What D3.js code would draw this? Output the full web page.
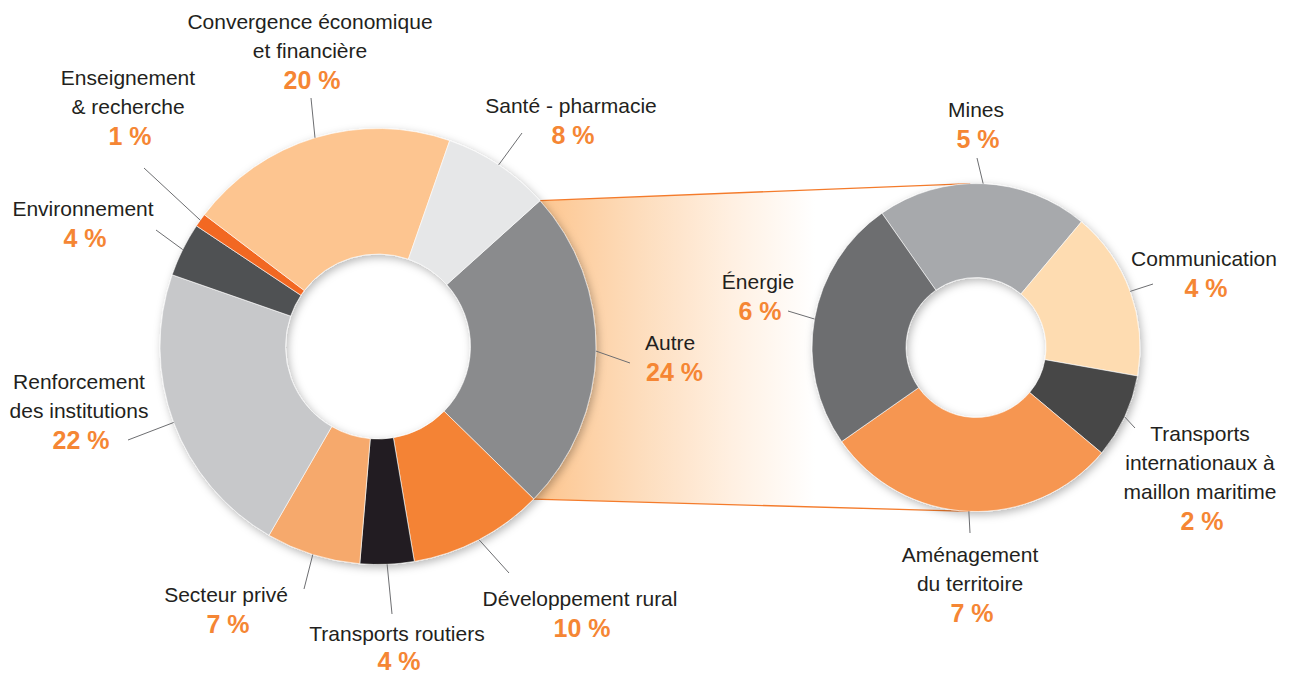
<html lang="fr">
<head>
  <meta charset="UTF-8"/>
  <title>Répartition par secteur</title>
  <script src="https://d3js.org/d3.v7.min.js"></script>
  <style>
body {
  margin: 0;
  background: #fff;
  font-family: 'Liberation Sans', Arial, sans-serif;
}

svg {
  display: block;
}

text.label {
  font-size: 21px;
  fill: #231f20;
}

text.pct {
  font-size: 25px;
  font-weight: 700;
  fill: #f58634;
}

line.leader {
  stroke: #6d6e71;
  stroke-width: 1;
}

line.band {
  stroke: #f47b2b;
  stroke-width: 1.3;
}

path.slice {
  stroke: #fff;
  stroke-width: 0.6;
}
  </style>
</head>
<body>
  <svg width="1293" height="675"></svg>
<script>

// main donut
const mainLabels = [
  ['Autre'],
  ['Développement rural'],
  ['Transports routiers'],
  ['Secteur privé'],
  ['Renforcement', 'des institutions'],
  ['Environnement'],
  ['Enseignement', '& recherche'],
  ['Convergence économique', 'et financière'],
  ['Santé - pharmacie']
];
const mainValues = [24, 10, 4, 7, 22, 4, 1, 20, 8];
const mainColors = ['#8a8b8d', '#f48335', '#231f20', '#f6a96c', '#c7c8ca', '#505153', '#f26722', '#fdc590', '#e6e7e8'];

// detail of "Autre"
const autreLabels = [
  ['Mines'],
  ['Communication'],
  ['Transports', 'internationaux à', 'maillon maritime'],
  ['Aménagement', 'du territoire'],
  ['Énergie']
];
const autreValues = [5, 4, 2, 7, 6];
const autreColors = ['#a7a9ac', '#fedcb1', '#464646', '#f69651', '#6d6e70'];

// label placement: x, first baseline, anchor, leader end
const mainPos = [
  { x: 645, y: 350, anchor: 'start', end: [630, 363] },
  { x: 580, y: 606, anchor: 'middle', end: [509, 573] },
  { x: 397, y: 641, anchor: 'middle', end: [392, 614], gap: 29 },
  { x: 226, y: 602, anchor: 'middle', end: [304, 589] },
  { x: 79, y: 389, anchor: 'middle', end: [128, 440] },
  { x: 83, y: 216, anchor: 'middle', end: [156, 230] },
  { x: 128, y: 85, anchor: 'middle', end: [144, 168] },
  { x: 310, y: 29, anchor: 'middle', end: [311, 98] },
  { x: 571, y: 113, anchor: 'middle', end: [522, 133] }
];
const autrePos = [
  { x: 976, y: 117, anchor: 'middle', end: [977, 158] },
  { x: 1204, y: 266, anchor: 'middle', end: [1153, 284] },
  { x: 1200, y: 441, anchor: 'middle', end: [1135, 428] },
  { x: 970, y: 562, anchor: 'middle', end: [970, 533] },
  { x: 758, y: 289, anchor: 'middle', end: [788, 311] }
];

const svg = d3.select('svg');
const rad = Math.PI / 180;

const big = { cx: 378, cy: 346.5, outer: 218, inner: 92.5, start: 48 * rad };
const small = { cx: 976, cy: 347.5, outer: 164, inner: 70, start: -35 * rad };

const defs = svg.append('defs');

defs.append('filter')
  .attr('id', 'shadow')
  .attr('x', '-20%').attr('y', '-20%')
  .attr('width', '140%').attr('height', '140%')
  .append('feDropShadow')
  .attr('dx', 2)
  .attr('dy', 3)
  .attr('stdDeviation', 4)
  .attr('flood-color', '#000')
  .attr('flood-opacity', 0.28);

const grad = defs.append('linearGradient')
  .attr('id', 'bandFill')
  .attr('gradientUnits', 'userSpaceOnUse')
  .attr('x1', 540).attr('y1', 0)
  .attr('x2', 815).attr('y2', 0);
grad.append('stop').attr('offset', 0).attr('stop-color', '#fdc690');
grad.append('stop').attr('offset', 0.35).attr('stop-color', '#fddcbb');
grad.append('stop').attr('offset', 0.7).attr('stop-color', '#fff0e2');
grad.append('stop').attr('offset', 1).attr('stop-color', '#ffffff');

const pieFor = (cfg) => d3.pie()
  .sort(null)
  .value((d) => d)
  .startAngle(cfg.start)
  .endAngle(cfg.start + 2 * Math.PI);

const mainArcs = pieFor(big)(mainValues);
const autreArcs = pieFor(small)(autreValues);

const onCircle = (cfg, a, r) => [cfg.cx + r * Math.sin(a), cfg.cy - r * Math.cos(a)];

// band linking "Autre" to its detail
const autre = mainArcs[0];
const p1 = onCircle(big, autre.startAngle, big.outer);
const p4 = onCircle(big, autre.endAngle, big.outer);
const p2 = onCircle(small, -2 * rad, small.outer);
const p3 = onCircle(small, 182 * rad, small.outer);

svg.append('path')
  .attr('d', d3.line()([p1, p2, p3, p4]) + 'Z')
  .attr('fill', 'url(#bandFill)');

svg.append('line').attr('class', 'band')
  .attr('x1', p1[0]).attr('y1', p1[1])
  .attr('x2', p2[0]).attr('y2', p2[1]);
svg.append('line').attr('class', 'band')
  .attr('x1', p4[0]).attr('y1', p4[1])
  .attr('x2', p3[0]).attr('y2', p3[1]);

const drawDonut = (cfg, arcs, colors, labels, pos) => {
  const arc = d3.arc().innerRadius(cfg.inner).outerRadius(cfg.outer);

  svg.append('g')
    .attr('transform', `translate(${cfg.cx}, ${cfg.cy})`)
    .attr('filter', 'url(#shadow)')
    .selectAll('path')
    .data(arcs)
    .enter()
    .append('path')
    .attr('class', 'slice')
    .attr('d', arc)
    .attr('fill', (d, i) => colors[i]);

  // leader lines: from the slice middle on the rim to the label
  svg.append('g')
    .selectAll('line')
    .data(arcs)
    .enter()
    .append('line')
    .attr('class', 'leader')
    .attr('x1', (d) => onCircle(cfg, (d.startAngle + d.endAngle) / 2, cfg.outer)[0])
    .attr('y1', (d) => onCircle(cfg, (d.startAngle + d.endAngle) / 2, cfg.outer)[1])
    .attr('x2', (d, i) => pos[i].end[0])
    .attr('y2', (d, i) => pos[i].end[1]);

  const lab = svg.append('g')
    .selectAll('g')
    .data(arcs)
    .enter()
    .append('g');

  lab.each(function (d, i) {
    const g = d3.select(this);
    const p = pos[i];
    labels[i].forEach((line, k) => {
      g.append('text')
        .attr('class', 'label')
        .attr('x', p.x)
        .attr('y', p.y + k * 29)
        .attr('text-anchor', p.anchor)
        .text(line);
    });
    g.append('text')
      .attr('class', 'pct')
      .attr('x', p.x + (p.anchor === 'start' ? 1 : 2))
      .attr('y', p.y + (labels[i].length - 1) * 29 + (p.gap || 31))
      .attr('text-anchor', p.anchor)
      .text(`${d.data} %`);
  });
};

drawDonut(big, mainArcs, mainColors, mainLabels, mainPos);
drawDonut(small, autreArcs, autreColors, autreLabels, autrePos);

</script>
</body>
</html>
